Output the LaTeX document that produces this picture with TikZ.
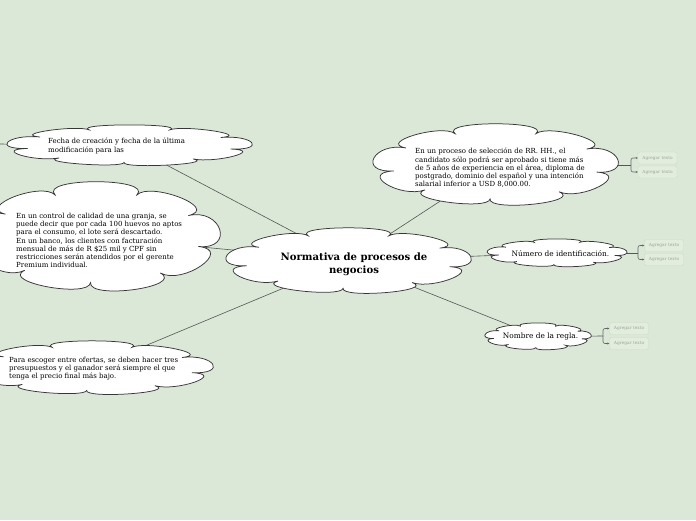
\documentclass[tikz,border=0pt]{standalone}
\usepackage{fontspec}
\setmainfont{DejaVu Serif}
\usetikzlibrary{shapes.geometric,arrows.meta}
\definecolor{bg}{RGB}{219,232,215}
\definecolor{cloudline}{RGB}{55,55,55}
\definecolor{conn}{RGB}{85,85,85}
\definecolor{boxfill}{RGB}{226,237,222}
\definecolor{boxline}{RGB}{205,220,200}
\definecolor{boxtext}{RGB}{150,165,150}
\tikzset{
  anchorell/.style={ellipse, inner sep=0pt, draw=none},
  cloudstyle/.style={draw=cloudline, fill=white, line width=0.75pt},
  smalltext/.style={font=\fontsize{7}{8.2}\selectfont, align=left, inner sep=0pt},
  conline/.style={draw=conn, line width=0.6pt},
  addbox/.style={draw=boxline, fill=boxfill, rounded corners=1.5pt, minimum width=39pt,
    minimum height=12pt, inner sep=0pt, text=boxtext, font=\fontsize{4.3}{5}\selectfont},
  brack/.style={draw=gray!80!black, line width=0.6pt, rounded corners=2pt, -{Stealth[length=2pt,width=2pt]}}
}
% invisible named ellipse + cloud outline
\newcommand\cloudnode[5]{% name, x, y, w, h
  \node[anchorell, minimum width=0.75*#4pt, minimum height=0.75*#5pt] (#1) at (#2,#3) {};}
\newcommand\drawcloud[4]{% x, y, w, h
  \begin{scope}[shift={(#1,#2)}, xscale=#3/2, yscale=-#4/2]
  \path[cloudstyle] (190:0.83)
    .. controls (190:1.13) and (150:1.13) .. (150:0.83)
    .. controls (150:1.1) and (113:1.1) .. (113:0.83)
    .. controls (113:1.18) and (67:1.18) .. (67:0.83)
    .. controls (67:1.1) and (28:1.12) .. (28:0.83)
    .. controls (28:1.13) and (-12:1.13) .. (-12:0.83)
    .. controls (-12:1.12) and (-52:1.12) .. (-52:0.83)
    .. controls (-52:1.15) and (-93:1.15) .. (-93:0.83)
    .. controls (-93:1.12) and (-133:1.12) .. (-133:0.83)
    .. controls (-133:1.12) and (-170:1.12) .. (190:0.83) -- cycle;
  \end{scope}}
\begin{document}
\begin{tikzpicture}[x=1pt,y=-1pt]
\fill[bg] (0,0) rectangle (696,520);
\useasboundingbox (0,0) rectangle (696,520);

% named anchor shapes of the clouds
\cloudnode{center}{348.5}{261}{249}{66}
\cloudnode{fecha}{129.5}{145.5}{249}{41}
\cloudnode{control}{96}{237}{252}{110}
\cloudnode{ofertas}{92}{368}{246}{54}
\cloudnode{seleccion}{495.5}{165}{249}{82}
\cloudnode{numero}{557}{253}{142}{28}
\cloudnode{nombre}{538}{336.5}{108}{27}

% add-text boxes
\node[addbox] (a1) at (657.5,158) {Agregar texto};
\node[addbox] (a2) at (657.5,172) {Agregar texto};
\node[addbox] (b1) at (664,245.5) {Agregar texto};
\node[addbox] (b2) at (664,259.5) {Agregar texto};
\node[addbox] (c1) at (629,328.5) {Agregar texto};
\node[addbox] (c2) at (629,343.5) {Agregar texto};
\coordinate (sa) at (631,165);
\coordinate (sb) at (638,253);
\coordinate (sc) at (603,336);
\coordinate (edgeL) at (0,144);

% connectors (drawn before the clouds, which cover their inner ends)
\draw[conline] (center) -- (fecha);
\draw[conline] (center) -- (control);
\draw[conline] (center) -- (ofertas);
\draw[conline] (center) -- (seleccion);
\draw[conline] (center) -- (numero);
\draw[conline] (center) -- (nombre);
\draw[conline] (edgeL) -- (fecha);
\draw[conline] (seleccion) -- (sa);
\draw[brack] (sa) |- (a1.west);
\draw[brack] (sa) |- (a2.west);
\draw[conline] (numero) -- (sb);
\draw[brack] (sb) |- (b1.west);
\draw[brack] (sb) |- (b2.west);
\draw[conline] (nombre) -- (sc);
\draw[brack] (sc) |- (c1.west);
\draw[brack] (sc) |- (c2.west);

% cloud outlines
\drawcloud{348.5}{261}{249}{66}
\drawcloud{129.5}{145.5}{249}{41}
\drawcloud{96}{237}{252}{110}
\drawcloud{92}{368}{246}{54}
\drawcloud{495.5}{165}{249}{82}
\drawcloud{557}{253}{142}{28}
\drawcloud{538}{336.5}{108}{27}

% texts
\node[font=\fontsize{10.1}{13}\selectfont\bfseries, align=center, inner sep=0pt] (centerT) at (354,264.5)
  {Normativa de procesos de\\negocios};
\node[smalltext, anchor=north west] (fechaT) at (48,138)
  {Fecha de creación y fecha de la última\\modificación para las};
\node[smalltext, anchor=north west] (controlT) at (16,213)
  {En un control de calidad de una granja, se\\puede decir que por cada 100 huevos no aptos\\para el consumo, el lote será descartado.\\En un banco, los clientes con facturación\\mensual de más de R \$25 mil y CPF sin\\restricciones serán atendidos por el gerente\\Premium individual.};
\node[smalltext, anchor=north west] (ofertasT) at (9,357)
  {Para escoger entre ofertas, se deben hacer tres\\presupuestos y el ganador será siempre el que\\tenga el precio final más bajo.};
\node[smalltext, anchor=north west] (seleccionT) at (415,148)
  {En un proceso de selección de RR. HH., el\\candidato sólo podrá ser aprobado si tiene más\\de 5 años de experiencia en el área, diploma de\\postgrado, dominio del español y una intención\\salarial inferior a USD 8,000.00.};
\node[smalltext, font=\fontsize{7.4}{9}\selectfont] (numeroT) at (560.5,253.5) {Número de identificación.};
\node[smalltext, font=\fontsize{7.4}{9}\selectfont] (nombreT) at (540.5,336.5) {Nombre de la regla.};
\end{tikzpicture}
\end{document}
